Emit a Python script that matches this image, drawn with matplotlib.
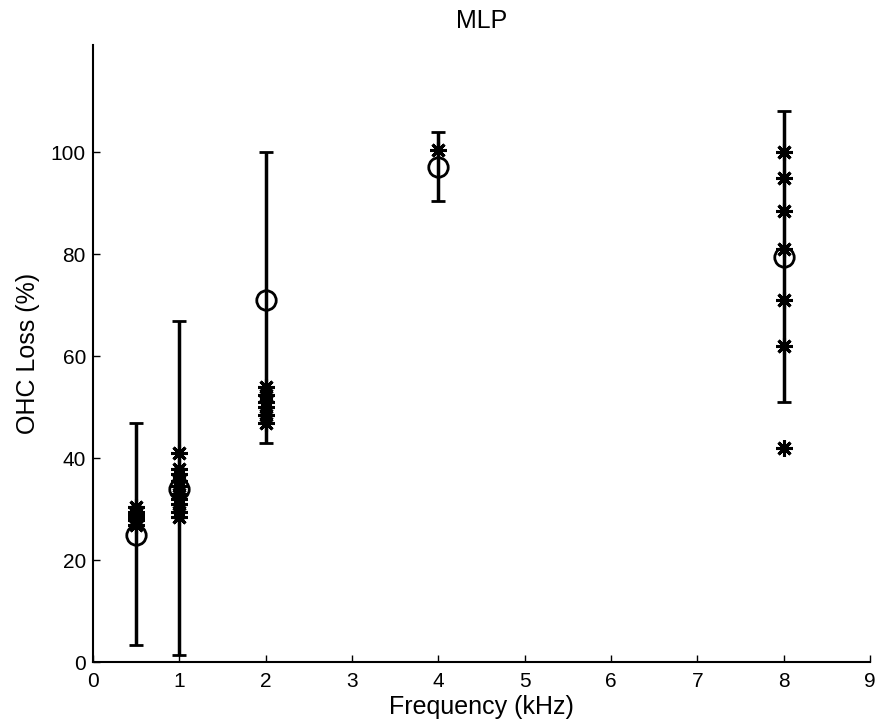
import numpy as np
import matplotlib
matplotlib.use('Agg')
import matplotlib.pyplot as plt

#### Data ####

freq = [0.5, 1, 2, 4, 8]
mean_loss = [25, 34, 71, 97, 79.5]
err_low = [3.5, 1.5, 43, 90.5, 51]
err_high = [47, 67, 100, 104, 108]

stars_05 = [27, 28, 28.5, 29, 29.5, 30.5]
stars_1 = [28.5, 29.5, 31, 32, 33, 34.5, 35.5, 37, 38, 41]
stars_2 = [47, 48.5, 50, 51, 52.5, 54]
stars_4 = [100.5]
stars_8 = [42, 62, 71, 81, 88.5, 95, 100]

xticks = [0, 1, 2, 3, 4, 5, 6, 7, 8, 9]
yticks = [0, 20, 40, 60, 80, 100]

####################

plt.rcParams['font.family'] = ['Liberation Sans', 'DejaVu Sans']

fig = plt.figure(figsize=(8.76, 7.26), dpi=100)
ax = fig.add_axes([0.106, 0.0875, 0.887, 0.8505])

star_sets = [stars_05, stars_1, stars_2, stars_4, stars_8]
for f, s in zip(freq, star_sets):
    ax.plot([f] * len(s), s, linestyle='none', marker=(8, 2, 0),
            markersize=12, markeredgewidth=2.2, color='k', zorder=3)

m = np.array(mean_loss)
yerr = [m - np.array(err_low), np.array(err_high) - m]
ax.errorbar(freq, mean_loss, yerr=yerr, fmt='o', color='k', ecolor='k',
            elinewidth=2.5, capsize=5, capthick=2.5, markersize=14,
            markerfacecolor='none', markeredgewidth=2, zorder=4)

ax.set_xlim(0, 9)
ax.set_ylim(0, 121)
ax.set_xticks(xticks)
ax.set_yticks(yticks)
ax.tick_params(direction='in', length=5, labelsize=15, width=1)
ax.tick_params(axis='x', pad=7)
ax.tick_params(axis='y', pad=5)
ax.spines['top'].set_visible(False)
ax.spines['right'].set_visible(False)
ax.spines['left'].set_linewidth(1.5)
ax.spines['bottom'].set_linewidth(1.5)

ax.set_xlabel('Frequency (kHz)', fontsize=18, labelpad=3)
ax.set_ylabel('OHC Loss (%)', fontsize=18, labelpad=8)
ax.set_title('MLP', fontsize=18, pad=12)

fig.savefig('out.png', dpi=100)
